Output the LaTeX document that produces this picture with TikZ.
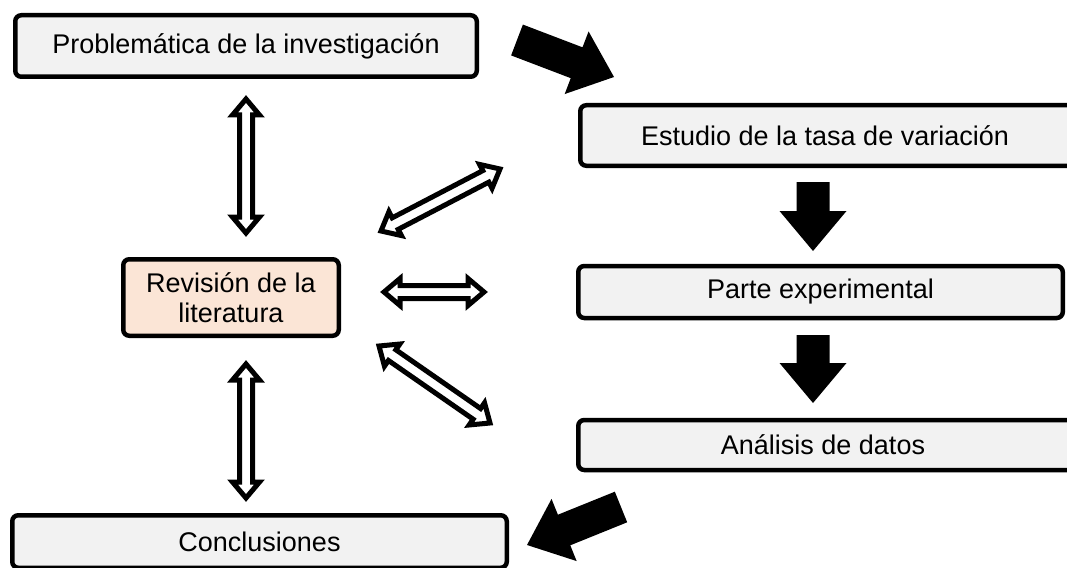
\documentclass[tikz,border=0pt]{standalone}
\usepackage{fontspec}
\setmainfont{Liberation Sans}
\usetikzlibrary{calc}
\definecolor{boxgray}{HTML}{F2F2F2}
\definecolor{peach}{HTML}{FBE5D6}
\tikzset{
  box/.style={draw=black, line width=4.5pt, rounded corners=6pt, fill=boxgray,
    inner sep=0pt, align=center, text=black, font=\fontsize{27}{30}\selectfont},
  hollow/.style={draw=black, fill=white, line width=5pt, line join=miter, miter limit=10},
  solidarrow/.style={fill=black, draw=none},
}
% hollow double arrow between two named coordinates
\newcommand{\dblarrow}[2]{%
  \path[hollow] (#1)
    -- ($(#1)!16pt!(#2)!13.5pt!90:(#2)$)
    -- ($(#1)!16pt!(#2)!6.5pt!90:(#2)$)
    -- ($(#2)!16pt!(#1)!6.5pt!-90:(#1)$)
    -- ($(#2)!16pt!(#1)!13.5pt!-90:(#1)$)
    -- (#2)
    -- ($(#2)!16pt!(#1)!13.5pt!90:(#1)$)
    -- ($(#2)!16pt!(#1)!6.5pt!90:(#1)$)
    -- ($(#1)!16pt!(#2)!6.5pt!-90:(#2)$)
    -- ($(#1)!16pt!(#2)!13.5pt!-90:(#2)$)
    -- cycle;}
% solid black block arrow from tail #1 to tip #2
\newcommand{\blkarrow}[2]{%
  \path[solidarrow] ($(#1)!16.5pt!90:(#2)$)
    -- ($(#2)!40pt!(#1)!16.5pt!-90:(#1)$)
    -- ($(#2)!40pt!(#1)!33.5pt!-90:(#1)$)
    -- (#2)
    -- ($(#2)!40pt!(#1)!33.5pt!90:(#1)$)
    -- ($(#2)!40pt!(#1)!16.5pt!90:(#1)$)
    -- ($(#1)!16.5pt!-90:(#2)$)
    -- cycle;}
\begin{document}
\begin{tikzpicture}[x=1pt,y=-1pt]
\useasboundingbox (0,0) rectangle (1067,567);
\clip (0,0) rectangle (1067,567);
\fill[white] (0,0) rectangle (1067,567);

% boxes
\node[box, minimum width=461.5pt, minimum height=61.5pt] (prob) at (246,46) {Problemática de la investigación};
\node[box, minimum width=502.5pt, minimum height=60.5pt] (est) at (831.5,135.5) {Estudio de la tasa de variación\hspace*{13pt}};
\node[box, minimum width=484.5pt, minimum height=52pt] (parte) at (820.5,292) {Parte experimental};
\node[box, minimum width=504.5pt, minimum height=50pt] (anal) at (830.5,445) {Análisis de datos\hspace*{15pt}};
\node[box, fill=peach, minimum width=215.5pt, minimum height=76.5pt] (rev) at (231,297.5) {Revisión de la\\literatura};
\node[box, minimum width=494.5pt, minimum height=52.5pt] (concl) at (259.5,541.5) {Conclusiones};

% solid arrows
\coordinate (a1t) at (517,40);  \coordinate (a1h) at (614,77);
\coordinate (a2t) at (813,182); \coordinate (a2h) at (813,251);
\coordinate (a3t) at (813,335); \coordinate (a3h) at (813,403);
\coordinate (a4t) at (621,507); \coordinate (a4h) at (527,545);
\blkarrow{a1t}{a1h}
\blkarrow{a2t}{a2h}
\blkarrow{a3t}{a3h}
\blkarrow{a4t}{a4h}

% hollow double arrows
\coordinate (d1a) at (246,99);  \coordinate (d1b) at (246,233);
\coordinate (d2a) at (246,364); \coordinate (d2b) at (246,498);
\coordinate (d3a) at (381,231); \coordinate (d3b) at (500,169);
\coordinate (d4a) at (384,292); \coordinate (d4b) at (484,292);
\coordinate (d5a) at (379,346); \coordinate (d5b) at (490,423);
\dblarrow{d1a}{d1b}
\dblarrow{d2a}{d2b}
\dblarrow{d3a}{d3b}
\dblarrow{d4a}{d4b}
\dblarrow{d5a}{d5b}
\end{tikzpicture}
\end{document}
